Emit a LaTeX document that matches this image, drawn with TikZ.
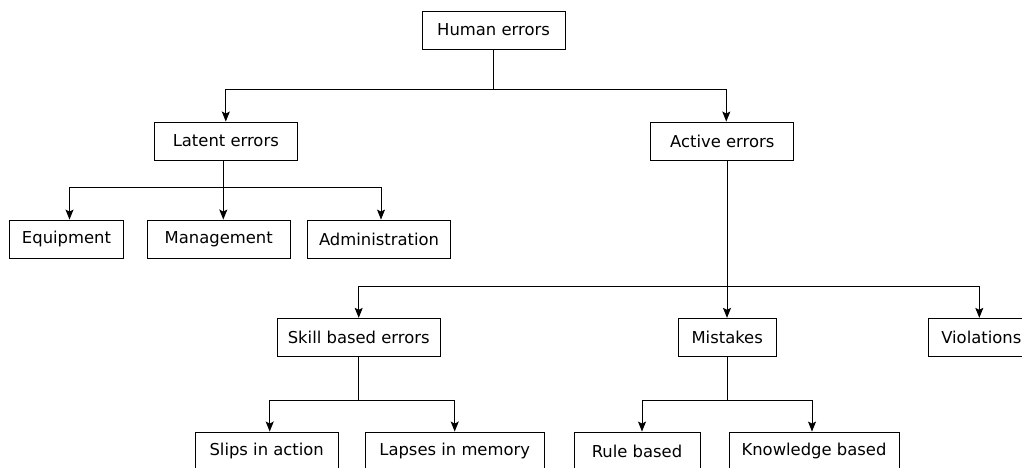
\documentclass[tikz,border=0pt]{standalone}
\usepackage{fontspec}
\setmainfont{DejaVu Sans}
\usetikzlibrary{arrows.meta}

\tikzset{
  box/.style={draw, minimum width=#1, minimum height=38pt, inner xsep=10pt,
    font=\fontsize{16.4}{19}\selectfont},
  box/.default=143pt,
  arr/.style={-{Stealth[length=10pt, width=8pt, inset=2pt]}},
}

\begin{document}
\begin{tikzpicture}[x=1pt, y=-1pt, line width=0.9pt]
            \useasboundingbox (0, 0) rectangle (1022, 468);
            % top levels
            \node[box] (human) at (493.5, 30) {Human errors};
            \node[box] (latent) at (225.8, 141) {Latent errors};
            \node[box] (active) at (722.3, 141) {Active errors};
            \node[box=114pt] (equip) at (66.5, 239) {Equipment};
            \node[box] (mgmt) at (218.7, 239) {Management};
            \node[box] (admin) at (379, 239) {Administration};
            \node[box=163pt] (skill) at (358.7, 337.3) {Skill based errors};
            \node[box=98pt] (mistakes) at (727.2, 337.3) {Mistakes};
            \node[box=106pt] (violations) at (981.3, 337.3) {Violations};
            % bottom row
            \node[box] (slips) at (266.7, 451) {Slips in action};
            \node[box=179pt] (lapses) at (454.7, 451) {Lapses in memory};
            \node[box=126pt] (rule) at (637, 451) {Rule based};
            \node[box=170pt] (knowledge) at (814, 451) {Knowledge based};
            % split points
            \coordinate (hsplit) at (human.south |- 0, 89);
            \coordinate (lsplit) at (223.3, 187.7);
            \coordinate (asplit) at (727, 286);
            \coordinate (ssplit) at (skill.south |- 0, 400);
            \coordinate (msplit) at (727, 400);
            % connectors
            \draw (human) -- (hsplit);
            \draw[arr] (hsplit) -| (latent);
            \draw[arr] (hsplit) -| ([xshift=4pt]active.north);
            \draw (lsplit |- latent.south) -- (lsplit);
            \draw[arr] (lsplit) -| ([xshift=3pt]equip.north);
            \draw[arr] (lsplit) -- (lsplit |- mgmt.north);
            \draw[arr] (lsplit) -| ([xshift=2pt]admin.north);
            \draw (asplit |- active.south) -- (asplit);
            \draw[arr] (asplit) -| (skill);
            \draw[arr] (asplit) -- (asplit |- mistakes.north);
            \draw[arr] (asplit) -| ([xshift=-2pt]violations.north);
            \draw (skill) -- (ssplit);
            \draw[arr] (ssplit) -| ([xshift=3pt]slips.north);
            \draw[arr] (ssplit) -| (lapses);
            \draw (msplit |- mistakes.south) -- (msplit);
            \draw[arr] (msplit) -| ([xshift=5pt]rule.north);
            \draw[arr] (msplit) -| ([xshift=-2pt]knowledge.north);
        \end{tikzpicture}
\end{document}
